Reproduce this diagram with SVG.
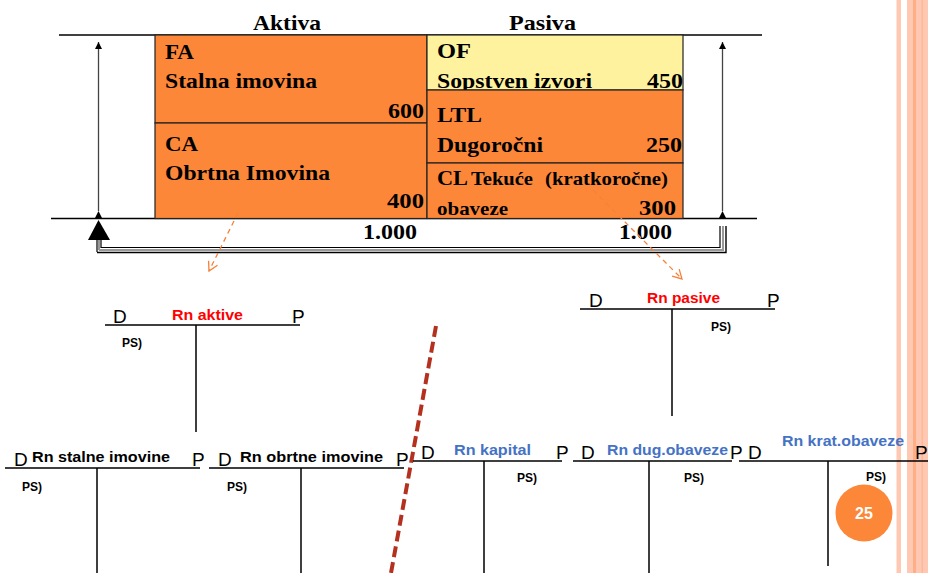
<svg xmlns="http://www.w3.org/2000/svg" width="928" height="573" viewBox="0 0 928 573">
<defs>
<style>
.ser{font-family:"Liberation Serif","Times New Roman",serif;font-weight:bold;fill:#000}
.s20{font-size:22px}
.s17{font-size:19px}
.dp{font-family:"Liberation Sans",Arial,sans-serif;font-size:19px;fill:#000}
.lbl{font-family:"Liberation Sans",Arial,sans-serif;font-weight:bold;font-size:15px}
.ps{font-family:"Liberation Sans",Arial,sans-serif;font-weight:bold;font-size:12px;fill:#000}
.red{fill:#ff0000}
.blue{fill:#4472c4}
.blk{fill:#000}
.ln{stroke:#000;stroke-width:1.3;fill:none}
.tl{stroke:#000;stroke-width:1.5;fill:none}
.box{stroke:#222;stroke-width:1.2}
.or{fill:#fd8738}
.ye{fill:#fff29e}
.oda{stroke:#f5823a;stroke-width:1.3;stroke-dasharray:5,4;fill:none}
</style>
<marker id="ah" markerWidth="8" markerHeight="8" refX="7" refY="4" orient="auto" markerUnits="userSpaceOnUse">
<path d="M0,0.5 L7,4 L0,7.5 Z" fill="#000"/>
</marker>
<marker id="oh" markerWidth="12" markerHeight="12" refX="10" refY="6" orient="auto" markerUnits="userSpaceOnUse">
<path d="M1,1 L10,6 L1,11" fill="none" stroke="#f5823a" stroke-width="1.3"/>
</marker>
</defs>

<!-- right decorative stripes -->
<g id="stripes">
<rect x="896.5" y="0" width="4.5" height="573" fill="#ffc8b3"/>
<rect x="907" y="0" width="21" height="573" fill="#ffc8b3"/>
<rect x="913" y="0" width="3" height="573" fill="#ffae86"/>
<rect x="921.5" y="0" width="1.5" height="573" fill="#ffb896"/>
</g>

<!-- balance sheet -->
<g id="balance">
<text class="ser s20" x="253" y="30" textLength="68" lengthAdjust="spacingAndGlyphs">Aktiva</text>
<text class="ser s20" x="509" y="30" textLength="67" lengthAdjust="spacingAndGlyphs">Pasiva</text>
<line class="ln" x1="59" y1="35" x2="762" y2="35"/>
<line class="ln" x1="51" y1="218.5" x2="757" y2="218.5"/>
</g>

<g id="FA">
<rect class="or box" x="155" y="35" width="272" height="88"/>
<text class="ser s20" x="165" y="59" textLength="29" lengthAdjust="spacingAndGlyphs">FA</text>
<text class="ser s20" x="165" y="88" textLength="152" lengthAdjust="spacingAndGlyphs">Stalna imovina</text>
<text class="ser s20" x="388" y="118" textLength="36" lengthAdjust="spacingAndGlyphs">600</text>
</g>
<g id="CA">
<rect class="or box" x="155" y="123" width="272" height="95.5"/>
<text class="ser s20" x="165" y="151" textLength="33" lengthAdjust="spacingAndGlyphs">CA</text>
<text class="ser s20" x="165" y="180" textLength="165" lengthAdjust="spacingAndGlyphs">Obrtna Imovina</text>
<text class="ser s20" x="387" y="208" textLength="37" lengthAdjust="spacingAndGlyphs">400</text>
</g>
<g id="OF">
<rect class="ye box" x="427" y="35" width="256" height="55"/>
<text class="ser s20" x="437" y="58" textLength="34" lengthAdjust="spacingAndGlyphs">OF</text>
<text class="ser s20" x="437" y="88" textLength="155" lengthAdjust="spacingAndGlyphs">Sopstven izvori</text>
<text class="ser s20" x="647" y="88" textLength="36" lengthAdjust="spacingAndGlyphs">450</text>
</g>
<g id="LTL">
<rect class="or box" x="427" y="90" width="256" height="73"/>
<text class="ser s20" x="437" y="122" textLength="45" lengthAdjust="spacingAndGlyphs">LTL</text>
<text class="ser s20" x="437" y="152" textLength="106" lengthAdjust="spacingAndGlyphs">Dugoročni</text>
<text class="ser s20" x="646" y="152" textLength="36" lengthAdjust="spacingAndGlyphs">250</text>
</g>
<g id="CL">
<rect class="or box" x="427" y="163" width="256" height="55.5"/>
<text class="ser s20" x="437" y="185" textLength="31" lengthAdjust="spacingAndGlyphs">CL</text>
<text class="ser s17" x="471" y="185" textLength="62" lengthAdjust="spacingAndGlyphs">Tekuće</text>
<text class="ser s17" x="545" y="185" textLength="123" lengthAdjust="spacingAndGlyphs">(kratkoročne)</text>
<text class="ser s17" x="437" y="215" textLength="71" lengthAdjust="spacingAndGlyphs">obaveze</text>
<text class="ser s20" x="639" y="215" textLength="37" lengthAdjust="spacingAndGlyphs">300</text>
</g>

<g id="totals">
<text class="ser s20" x="363" y="239" textLength="54" lengthAdjust="spacingAndGlyphs">1.000</text>
<text class="ser s20" x="619" y="239" textLength="53" lengthAdjust="spacingAndGlyphs">1.000</text>
</g>

<!-- connectors -->
<g id="connectors">
<line x1="98.5" y1="211" x2="98.5" y2="42" stroke="#444" stroke-width="1.3" marker-end="url(#ah)" marker-start="url(#ah)"/>
<line x1="722.5" y1="211" x2="722.5" y2="42" stroke="#444" stroke-width="1.3" marker-end="url(#ah)" marker-start="url(#ah)"/>
<path d="M98.5,220 L88,240 L110,240 Z" fill="#000"/>
<path d="M97,240 V252 M101,240 V248" stroke="#000" stroke-width="1.2" fill="none"/>
<path d="M99,240 V250" stroke="#999" stroke-width="2" fill="none"/>
<path d="M101,247.5 H720 V226" stroke="#000" stroke-width="1.2" fill="none"/>
<path d="M99,250 H723 V226" stroke="#999" stroke-width="2" fill="none"/>
<path d="M97,252.5 H726 V226" stroke="#000" stroke-width="1.4" fill="none"/>
<line class="oda" x1="238" y1="213" x2="209" y2="271" marker-end="url(#oh)"/>
<line class="oda" x1="593" y1="190" x2="682" y2="279" marker-end="url(#oh)"/>
<line x1="436" y1="326" x2="391" y2="573" stroke="#b5311f" stroke-width="4" stroke-dasharray="11,5"/>
</g>

<!-- T accounts -->
<g id="rn-aktive">
<path class="tl" d="M105,325 H300 M196,325 V432"/>
<text class="dp" x="113" y="323">D</text>
<text class="lbl red" x="172" y="320" textLength="71" lengthAdjust="spacingAndGlyphs">Rn aktive</text>
<text class="dp" x="292" y="323">P</text>
<text class="ps" x="122" y="347">PS)</text>
</g>
<g id="rn-stalne">
<path class="tl" d="M5,468 H200 M97,468 V573"/>
<text class="dp" x="14" y="466">D</text>
<text class="lbl blk" x="32" y="462" textLength="138" lengthAdjust="spacingAndGlyphs">Rn stalne imovine</text>
<text class="dp" x="192" y="466">P</text>
<text class="ps" x="22" y="491">PS)</text>
</g>
<g id="rn-obrtne">
<path class="tl" d="M209,468 H404 M301,468 V573"/>
<text class="dp" x="218" y="466">D</text>
<text class="lbl blk" x="240" y="462" textLength="143" lengthAdjust="spacingAndGlyphs">Rn obrtne imovine</text>
<text class="dp" x="396" y="466">P</text>
<text class="ps" x="227" y="491">PS)</text>
</g>
<g id="rn-pasive">
<path class="tl" d="M580,309 H775 M672,309 V416"/>
<text class="dp" x="589" y="307">D</text>
<text class="lbl red" x="647" y="303" textLength="73" lengthAdjust="spacingAndGlyphs">Rn pasive</text>
<text class="dp" x="767" y="307">P</text>
<text class="ps" x="711" y="331">PS)</text>
</g>
<g id="rn-kapital">
<path class="tl" d="M413,461 H562 M484,461 V573"/>
<text class="dp" x="421" y="459">D</text>
<text class="lbl blue" x="454" y="455" textLength="77" lengthAdjust="spacingAndGlyphs">Rn kapital</text>
<text class="dp" x="556" y="459">P</text>
<text class="ps" x="517" y="482">PS)</text>
</g>
<g id="rn-dug">
<path class="tl" d="M573,461 H732 M649,461 V573"/>
<text class="dp" x="581" y="459">D</text>
<text class="lbl blue" x="607" y="455" textLength="121" lengthAdjust="spacingAndGlyphs">Rn dug.obaveze</text>
<text class="dp" x="730" y="459">P</text>
<text class="ps" x="684" y="482">PS)</text>
</g>
<g id="rn-krat">
<path class="tl" d="M739,461 H928 M828,461 V566"/>
<text class="dp" x="748" y="459">D</text>
<text class="lbl blue" x="782" y="446" textLength="122" lengthAdjust="spacingAndGlyphs">Rn krat.obaveze</text>
<text class="dp" x="915" y="459">P</text>
<text class="ps" x="866" y="481">PS)</text>
</g>

<g id="page-number">
<circle cx="864" cy="513" r="28.5" fill="#fd8738"/>
<text x="864" y="519" text-anchor="middle" font-family="Liberation Sans, Arial, sans-serif" font-weight="bold" font-size="16" fill="#fff">25</text>
</g>
</svg>
